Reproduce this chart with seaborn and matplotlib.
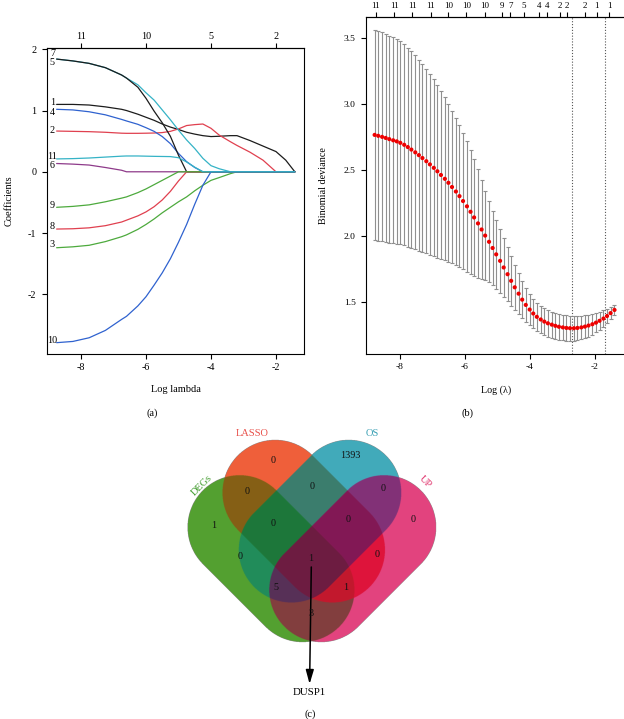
import numpy as np
import pandas as pd
import matplotlib
matplotlib.use("Agg")
import matplotlib.pyplot as plt
import seaborn as sns

# ---------------- (a) LASSO coefficient paths ----------------
path_loglam = [-8.75, -8.25, -7.75, -7.25, -6.75, -6.6, -6.25, -6.0, -5.75, -5.5, -5.25, -5.0,
               -4.75, -4.5, -4.25, -4.0, -3.75, -3.4, -3.2, -2.8, -2.4, -2.0, -1.7, -1.42]
coef_1 = [1.10, 1.10, 1.09, 1.06, 1.02, 1.00, 0.94, 0.89, 0.84, 0.78, 0.73, 0.69,
          0.645, 0.615, 0.59, 0.575, 0.58, 0.59, 0.59, 0.51, 0.42, 0.33, 0.19, 0.0]
coef_2 = [0.665, 0.66, 0.655, 0.645, 0.63, 0.628, 0.628, 0.63, 0.633, 0.64, 0.66, 0.70,
          0.755, 0.77, 0.78, 0.71, 0.60, 0.49, 0.43, 0.32, 0.19, 0.0, 0.0, 0.0]
coef_3 = [-1.24, -1.225, -1.20, -1.14, -1.06, -1.03, -0.94, -0.86, -0.77, -0.67, -0.58, -0.49,
          -0.41, -0.31, -0.22, -0.14, -0.095, -0.03, 0.0, 0.0, 0.0, 0.0, 0.0, 0.0]
coef_4 = [1.02, 1.01, 0.98, 0.93, 0.855, 0.83, 0.775, 0.72, 0.66, 0.575, 0.46, 0.30,
          0.165, 0.07, 0.0, 0.0, 0.0, 0.0, 0.0, 0.0, 0.0, 0.0, 0.0, 0.0]
coef_5 = [1.84, 1.81, 1.77, 1.70, 1.58, 1.53, 1.42, 1.29, 1.17, 1.01, 0.85, 0.68,
          0.52, 0.38, 0.22, 0.10, 0.05, 0.0, 0.0, 0.0, 0.0, 0.0, 0.0, 0.0]
coef_6 = [0.135, 0.125, 0.11, 0.07, 0.025, 0.0, 0.0, 0.0, 0.0, 0.0, 0.0, 0.0,
          0.0, 0.0, 0.0, 0.0, 0.0, 0.0, 0.0, 0.0, 0.0, 0.0, 0.0, 0.0]
coef_7 = [1.84, 1.81, 1.77, 1.70, 1.58, 1.53, 1.38, 1.20, 0.99, 0.80, 0.58, 0.27,
          0.0, 0.0, 0.0, 0.0, 0.0, 0.0, 0.0, 0.0, 0.0, 0.0, 0.0, 0.0]
coef_8 = [-0.935, -0.93, -0.915, -0.88, -0.82, -0.79, -0.72, -0.655, -0.57, -0.46, -0.32, -0.15,
          0.0, 0.0, 0.0, 0.0, 0.0, 0.0, 0.0, 0.0, 0.0, 0.0, 0.0, 0.0]
coef_9 = [-0.58, -0.565, -0.54, -0.49, -0.43, -0.41, -0.34, -0.28, -0.21, -0.14, -0.07, 0.0,
          0.0, 0.0, 0.0, 0.0, 0.0, 0.0, 0.0, 0.0, 0.0, 0.0, 0.0, 0.0]
coef_10 = [-2.79, -2.77, -2.71, -2.59, -2.41, -2.36, -2.19, -2.04, -1.85, -1.65, -1.42, -1.15,
           -0.86, -0.53, -0.22, 0.0, 0.0, 0.0, 0.0, 0.0, 0.0, 0.0, 0.0, 0.0]
coef_11 = [0.21, 0.215, 0.225, 0.24, 0.255, 0.258, 0.258, 0.255, 0.252, 0.25, 0.248, 0.23,
           0.16, 0.075, 0.0, 0.0, 0.0, 0.0, 0.0, 0.0, 0.0, 0.0, 0.0, 0.0]
var_names = ["1", "2", "3", "4", "5", "6", "7", "8", "9", "10", "11"]
top_pos_a = [-8, -6, -4, -2]
top_lab_a = ["11", "10", "5", "2"]

# ---------------- (b) cross-validation curve ----------------
cv_loglam = [-8.78, -8.67, -8.55, -8.44, -8.33, -8.21, -8.10, -7.99, -7.87, -7.76, -7.65,
             -7.53, -7.42, -7.31, -7.19, -7.08, -6.96, -6.85, -6.74, -6.62, -6.51, -6.40,
             -6.28, -6.17, -6.06, -5.94, -5.83, -5.72, -5.60, -5.49, -5.38, -5.26, -5.15,
             -5.04, -4.92, -4.81, -4.69, -4.58, -4.47, -4.35, -4.24, -4.13, -4.01, -3.90,
             -3.79, -3.67, -3.56, -3.45, -3.33, -3.22, -3.11, -2.99, -2.88, -2.77, -2.65,
             -2.54, -2.42, -2.31, -2.20, -2.08, -1.97, -1.86, -1.74, -1.63, -1.52, -1.40]
cv_mean = [2.765, 2.758, 2.750, 2.742, 2.733, 2.724, 2.716, 2.705, 2.690, 2.673, 2.654,
           2.633, 2.612, 2.590, 2.566, 2.542, 2.516, 2.490, 2.462, 2.433, 2.403, 2.371,
           2.337, 2.302, 2.265, 2.225, 2.184, 2.141, 2.096, 2.050, 2.004, 1.957, 1.910,
           1.862, 1.813, 1.763, 1.712, 1.662, 1.613, 1.565, 1.520, 1.480, 1.445, 1.415,
           1.390, 1.370, 1.354, 1.341, 1.331, 1.322, 1.315, 1.310, 1.306, 1.304, 1.304,
           1.306, 1.310, 1.316, 1.324, 1.334, 1.346, 1.360, 1.377, 1.396, 1.418, 1.442]
cv_se = [0.795, 0.793, 0.790, 0.787, 0.783, 0.778, 0.773, 0.767, 0.760, 0.752, 0.743,
         0.733, 0.722, 0.710, 0.697, 0.683, 0.668, 0.652, 0.635, 0.617, 0.598, 0.578,
         0.558, 0.538, 0.517, 0.495, 0.470, 0.443, 0.412, 0.375, 0.338, 0.305, 0.280,
         0.260, 0.241, 0.222, 0.204, 0.187, 0.171, 0.156, 0.142, 0.130, 0.120, 0.113,
         0.108, 0.104, 0.102, 0.100, 0.099, 0.098, 0.097, 0.096, 0.095, 0.094, 0.093,
         0.091, 0.089, 0.086, 0.083, 0.079, 0.074, 0.068, 0.061, 0.054, 0.046, 0.038]
lambda_min = -2.71
lambda_1se = -1.69
top_pos_b = [-8.74, -8.17, -7.62, -7.06, -6.51, -5.96, -5.38, -4.87, -4.61, -4.18, -3.73,
             -3.47, -3.09, -2.86, -2.31, -1.95, -1.57]
top_lab_b = ["11", "11", "11", "11", "10", "10", "10", "9", "7", "5", "4", "4", "2", "2",
             "2", "1", "1"]

# ---------------- (c) Venn diagram ----------------
venn_sets = ["DEGs", "LASSO", "OS", "UP"]
venn_region_keys = ["1000", "0100", "0010", "0001", "1100", "0110", "1010", "0011",
                    "0101", "1001", "1110", "0111", "1011", "1101", "1111"]
venn_counts = [1, 0, 1393, 0, 0, 0, 0, 0, 0, 3, 0, 0, 5, 1, 1]
venn_hit = "DUSP1"

# ================= styling / layout =================
sns.set_theme(style="ticks")
plt.rcParams["font.family"] = ["Liberation Serif", "DejaVu Serif"]
plt.rcParams.update({
    "axes.linewidth": 0.8, "axes.edgecolor": "black",
    "xtick.color": "black", "ytick.color": "black",
    "xtick.major.width": 0.8, "ytick.major.width": 0.8,
    "xtick.major.size": 3.5, "ytick.major.size": 3.5,
    "xtick.direction": "out", "ytick.direction": "out",
    "axes.unicode_minus": False, "text.color": "black",
    "axes.labelcolor": "black",
})

W, H = 624, 719
fig = plt.figure(figsize=(W / 100, H / 100), dpi=100)


def rect(l, t, r, b):
    return [l / W, 1 - b / H, (r - l) / W, (b - t) / H]


# ---------------- panel (a) ----------------
axA = fig.add_axes(rect(47, 48, 304, 354))
line_cols = ["#1c1c1c", "#E0404F", "#4DAA3D", "#2F62CF", "#35B3C6", "#8E3A8A",
             "#1c1c1c", "#E0404F", "#4DAA3D", "#2F62CF", "#35B3C6"]
coef_lists = [coef_1, coef_2, coef_3, coef_4, coef_5, coef_6, coef_7, coef_8, coef_9,
              coef_10, coef_11]
df_a = pd.DataFrame({
    "loglam": np.tile(path_loglam, len(var_names)),
    "coef": np.concatenate(coef_lists),
    "var": np.repeat(var_names, len(path_loglam)),
})
sns.lineplot(data=df_a, x="loglam", y="coef", hue="var", hue_order=var_names,
             palette=dict(zip(var_names, line_cols)), legend=False, estimator=None,
             sort=False, lw=0.9, ax=axA)
label_dy = {"1": 0.03, "2": 0.015, "3": 0.05, "4": -0.045, "5": -0.05, "6": -0.03,
            "7": 0.095, "8": 0.04, "9": 0.03, "10": 0.033, "11": 0.035}
for name, vals in zip(var_names, coef_lists):
    axA.text(-8.88, vals[0] + label_dy[name], name, ha="center", va="center",
             fontsize=7.3)
axA.set_xlim(-9.046, -1.138)
axA.set_ylim(-2.975, 2.021)
axA.set_xticks([-8, -6, -4, -2])
axA.set_yticks([-2, -1, 0, 1, 2])
axA.tick_params(axis="both", labelsize=7.3)
axA.tick_params(axis="y", pad=4)
axA.tick_params(axis="x", pad=3)
for s in axA.spines.values():
    s.set_visible(True)
axA.set_xlabel("Log lambda", fontsize=7.5)
axA.set_ylabel("Coefficients", fontsize=7.5)
axA.xaxis.set_label_coords(0.5, -0.10)
axA.yaxis.set_label_coords(-0.13, 0.5)
secA = axA.secondary_xaxis("top")
secA.set_xticks(top_pos_a)
secA.set_xticklabels(top_lab_a)
secA.tick_params(labelsize=7.3, pad=1.5, length=3.5)

# ---------------- panel (b) ----------------
axB = fig.add_axes(rect(366, 17, 626, 354))
axB.errorbar(cv_loglam, cv_mean, yerr=cv_se, fmt="none", ecolor="#8f8f8f",
             elinewidth=0.8, capsize=1.3, capthick=0.8, zorder=2)
sns.scatterplot(x=cv_loglam, y=cv_mean, color="#ee0000", s=9, edgecolor="none",
                ax=axB, zorder=3)
for v in (lambda_min, lambda_1se):
    axB.axvline(v, color="#555555", lw=0.8, ls=(0, (1, 1.6)), zorder=1)
axB.set_xlim(-9.046, -1.046)
axB.set_ylim(1.109, 3.656)
axB.set_xticks([-8, -6, -4, -2])
axB.set_yticks([1.5, 2.0, 2.5, 3.0, 3.5])
axB.set_yticklabels(["1.5", "2.0", "2.5", "3.0", "3.5"])
axB.tick_params(axis="both", labelsize=6.8)
axB.tick_params(axis="y", pad=4)
axB.tick_params(axis="x", pad=3)
for s in axB.spines.values():
    s.set_visible(True)
axB.set_xlabel("Log (\u03bb)", fontsize=7.3)
axB.set_ylabel("Binomial deviance", fontsize=7.3)
axB.xaxis.set_label_coords(0.5, -0.093)
axB.yaxis.set_label_coords(-0.145, 0.5)
secB = axB.secondary_xaxis("top")
secB.set_xticks(top_pos_b)
secB.set_xticklabels(top_lab_b)
secB.tick_params(labelsize=6.5, pad=1.5, length=3.5)

# ---------------- panel (c): Venn in pixel coordinates ----------------
axV = fig.add_axes([0, 0, 1, 1], zorder=-1)
axV.set_facecolor("none")

shapes = {  # stadium shapes: cap centre 1, cap centre 2, radius (image pixels)
    "DEGs": ((239.7, 527.2), (302.5, 590.0), 52.0),
    "LASSO": ((275.2, 492.7), (332.3, 549.8), 52.7),
    "OS": ((348.6, 492.7), (291.5, 549.8), 52.7),
    "UP": ((384.1, 527.2), (321.3, 590.0), 52.0),
}
region_colors = {
    "1000": "#54A030", "0100": "#EF5F3A", "0010": "#42AABA", "0001": "#E2447E",
    "1100": "#855F16", "0110": "#3C7D6E", "1010": "#228C5A", "0011": "#823278",
    "0101": "#DE143C", "1001": "#823E3E", "1110": "#1E783A", "0111": "#821955",
    "1011": "#583058", "1101": "#C3192D", "1111": "#6E1C41",
}


def stadium(X, Y, c1, c2, r):
    dx, dy = c2[0] - c1[0], c2[1] - c1[1]
    t = np.clip(((X - c1[0]) * dx + (Y - c1[1]) * dy) / (dx * dx + dy * dy), 0, 1)
    px, py = c1[0] + t * dx, c1[1] + t * dy
    return (X - px) ** 2 + (Y - py) ** 2 <= r * r


x0, x1, y0, y1 = 180, 445, 430, 650
step = 0.25
xs = np.arange(x0, x1, step) + step / 2
ys = np.arange(y0, y1, step) + step / 2
XX, YY = np.meshgrid(xs, ys)
masks = [stadium(XX, YY, *shapes[n]) for n in venn_sets]
img = np.zeros(XX.shape + (4,))
for key in venn_region_keys:
    m = np.ones(XX.shape, bool)
    for flag, mk in zip(key, masks):
        m &= mk if flag == "1" else ~mk
    img[m] = matplotlib.colors.to_rgba(region_colors[key])
axV.imshow(img, extent=(x0, x1, y1, y0), origin="upper", interpolation="antialiased",
           aspect="auto")

venn_label_xy = {
    "1000": (213.3, 525.7), "0100": (273.3, 460.7), "0010": (350.0, 455.0),
    "0001": (413.3, 520.0), "1100": (246.7, 491.7), "0110": (312.3, 486.7),
    "1010": (240.0, 556.7), "0011": (383.3, 488.3), "0101": (377.3, 554.3),
    "1001": (311.0, 613.3), "1110": (273.3, 523.3), "0111": (347.7, 520.0),
    "1011": (275.7, 587.7), "1101": (345.7, 587.7), "1111": (311.0, 558.3),
}
axV.annotate("", xy=(309.6, 684), xytext=(311.3, 567),
             arrowprops=dict(arrowstyle="-|>,head_length=0.7,head_width=0.2",
                             color="black", lw=1.1, shrinkA=0, shrinkB=0,
                             mutation_scale=12))
for key, cnt in zip(venn_region_keys, venn_counts):
    x, y = venn_label_xy[key]
    axV.text(x, y, str(cnt), ha="center", va="center", fontsize=7.3, color="#111111")

set_label_style = {
    "DEGs": ((201.7, 485.0), 45, "#3E9A2A"),
    "LASSO": ((252.0, 434.0), 0, "#E8504A"),
    "OS": ((372.7, 434.0), 0, "#3AA0B4"),
    "UP": ((425.0, 481.7), -45, "#E0306A"),
}
for n in venn_sets:
    (x, y), rot, col = set_label_style[n]
    axV.text(x, y, n, ha="center", va="center", rotation=rot, fontsize=7.5, color=col)

axV.text(309.3, 692.3, venn_hit, ha="center", va="center", fontsize=7.8)
axV.text(152, 413, "(a)", ha="center", va="center", fontsize=7.5)
axV.text(468, 413, "(b)", ha="center", va="center", fontsize=7.5)
axV.text(310, 714, "(c)", ha="center", va="center", fontsize=7.5)
axV.set_xlim(0, W)
axV.set_ylim(H, 0)
axV.axis("off")

fig.savefig("out.png", dpi=100)
